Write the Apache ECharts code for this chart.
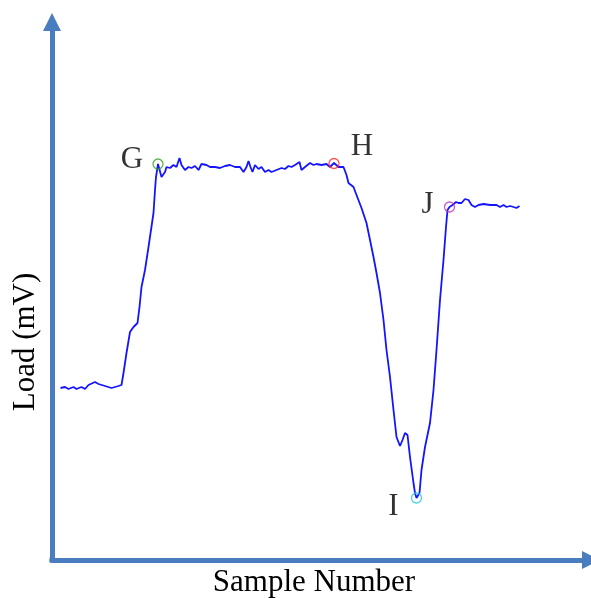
<!DOCTYPE html>
<html>
<head>
<meta charset="utf-8">
<script src="https://cdn.jsdelivr.net/npm/echarts@6/dist/echarts.min.js"></script>
<style>html,body{margin:0;padding:0;background:#fff}#chart{width:591px;height:598px}</style>
</head>
<body>
<div id="chart"></div>
<script>
// Sample numbers and load values (mV)
const samples = [17,26,33,43,49,59,66,73,86,93,106,119,133,139,143,149,156,163,171,175,179,186,193,198,203,206,208,212,219,226,229,236,243,249,255,259,266,273,279,286,293,299,309,316,326,336,346,356,366,376,383,389,393,397,401,406,413,419,426,433,439,449,459,466,473,479,486,489,495,499,506,516,523,529,539,549,556,564,573,583,589,593,603,609,619,629,636,643,649,656,663,669,676,683,689,696,701,706,711,716,723,726,729,735,739,746,756,763,769,776,783,788,791,795,801,808,813,819,826,833,839,846,853,863,876,889,896,903,909,916,923,929,935];
const loads = [1.72,1.73,1.71,1.73,1.71,1.73,1.71,1.75,1.78,1.76,1.74,1.72,1.74,1.75,1.87,2.07,2.28,2.33,2.37,2.53,2.73,2.90,3.13,3.30,3.47,3.70,3.83,3.96,3.83,3.88,3.93,3.92,3.95,3.93,4.02,3.95,3.90,3.93,3.92,3.94,3.90,3.96,3.95,3.93,3.93,3.92,3.94,3.95,3.93,3.93,3.88,3.93,3.99,3.93,3.88,3.95,3.91,3.93,3.88,3.90,3.88,3.90,3.92,3.91,3.94,3.93,3.95,3.93,3.98,3.90,3.93,3.97,3.95,3.96,3.95,3.96,3.93,3.97,3.93,3.93,3.85,3.77,3.73,3.65,3.52,3.37,3.20,3.03,2.87,2.67,2.40,2.10,1.83,1.50,1.23,1.14,1.20,1.27,1.25,1.03,0.77,0.67,0.62,0.67,0.90,1.13,1.37,1.70,2.10,2.60,3.00,3.33,3.50,3.53,3.55,3.58,3.57,3.57,3.61,3.60,3.55,3.53,3.55,3.56,3.55,3.55,3.53,3.55,3.53,3.54,3.53,3.52,3.54];

// Key points
const pointNames = ['G','H','I','J'];
const pointSamples = [212,564,729,795];
const pointLoads = [3.96,3.965,0.62,3.53];
const pointColors = ['#2ca02c','#ff2a2a','#22c8d8','#c030c0'];
const labelOffsets = [[-26,-4],[28,-17],[-23,9],[-22,-2]];

const xTitle = 'Sample Number';
const yTitle = 'Load (mV)';

const axisColor = '#4a7dbf';
const serif = "'Liberation Serif','Times New Roman',serif";

const chart = echarts.init(document.getElementById('chart'), null, {renderer:'canvas'});
chart.setOption({
  animation:false,
  backgroundColor:'#fff',
  grid:{left:52, top:22, width:539, bottom:38, outerBoundsMode:'none', containLabel:false},
  xAxis:{
    type:'value', min:0, max:1078,
    axisLine:{show:true, symbol:['none','triangle'], symbolSize:[18,18], lineStyle:{color:axisColor, width:5}},
    axisTick:{show:false}, axisLabel:{show:false}, splitLine:{show:false}
  },
  yAxis:{
    type:'value', min:0, max:5.38,
    axisLine:{show:true, symbol:['none','triangle'], symbolSize:[18,18], lineStyle:{color:axisColor, width:5}},
    axisTick:{show:false}, axisLabel:{show:false}, splitLine:{show:false}
  },
  graphic:[
    {type:'rect', left:49.5, top:557.5, shape:{width:5, height:5}, style:{fill:axisColor}, z:1},
    {type:'text', x:314, y:583, style:{text:xTitle, font:'31px '+serif, fill:'#000', align:'center', verticalAlign:'middle'}},
    {type:'text', x:25.5, y:342, rotation:Math.PI/2, style:{text:yTitle, font:'31px '+serif, fill:'#000', align:'center', verticalAlign:'middle'}}
  ],
  series:[
    {
      type:'line',
      data:samples.map((s,i)=>[s,loads[i]]),
      showSymbol:false,
      lineStyle:{color:'#1414ff', width:1.8},
      z:2
    },
    {
      type:'scatter',
      data:pointNames.map((n,i)=>({
        value:[pointSamples[i],pointLoads[i]],
        itemStyle:{color:'transparent', borderColor:pointColors[i], borderWidth:1.3},
        label:{show:true, formatter:n, position:'inside', offset:labelOffsets[i],
          fontFamily:serif, fontSize:31, color:'#000'}
      })),
      symbol:'circle',
      symbolSize:10,
      z:3
    }
  ]
});
</script>
</body>
</html>
